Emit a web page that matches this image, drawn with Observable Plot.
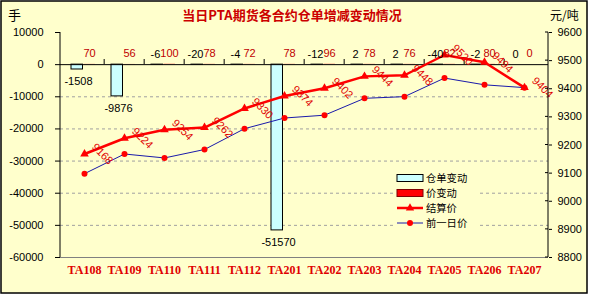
<!DOCTYPE html>
<html><head><meta charset="utf-8">
<script src="https://cdn.jsdelivr.net/npm/d3@7"></script>
<script src="https://cdn.jsdelivr.net/npm/@observablehq/plot@0.6"></script>
<style>body{margin:0;background:#fff}#chart svg{display:block}</style>
</head><body><div id="chart"></div>
<script>
const categories = ["TA108","TA109","TA110","TA111","TA112","TA201","TA202","TA203","TA204","TA205","TA206","TA207"];
const warrantChange = [-1508, -9876, -6, -20, -4, -51570, -12, 2, 2, -40, -2, 0];
const priceChange = [70, 56, 100, 78, 72, 78, 96, 78, 76, 82, 80, 0];
const settlePrice = [9168, 9224, 9254, 9262, 9330, 9374, 9402, 9444, 9448, 9520, 9494, 9404];
const prevPrice = [9098, 9168, 9154, 9184, 9258, 9296, 9306, 9366, 9372, 9438, 9414, 9404];
const leftTicks = [10000, 0, -10000, -20000, -30000, -40000, -50000, -60000];
const gridTicks = [-10000, -20000, -30000, -40000, -50000];
const rightTicks = [9600, 9500, 9400, 9300, 9200, 9100, 9000, 8900, 8800];
const titleText = "当日PTA期货各合约仓单增减变动情况";
const legendLabels = ["仓单变动", "价变动", "结算价", "前一日价"];

const toLeft = p => (p - 9600) * 87.5 + 10000;
const fromLeft = v => Math.round((v - 10000) / 87.5 + 9600);

const rows = categories.map((c, i) => ({cat: c, warrant: warrantChange[i], change: priceChange[i], settle: settlePrice[i], prev: prevPrice[i]}));

const chart = Plot.plot({
  width: 590, height: 297,
  marginTop: 32, marginBottom: 40, marginLeft: 60, marginRight: 42,
  style: {background: "transparent", fontFamily: "'Liberation Sans', Arial, sans-serif", fontSize: "11px", color: "#000"},
  x: {type: "band", domain: categories, padding: 0, label: null},
  y: {domain: [-60000, 10000], label: null},
  marks: [
    Plot.ruleY(gridTicks, {stroke: "#a0a0a0", strokeDasharray: "3,3"}),
    Plot.ruleY([-60000], {stroke: "#808080"}),
    Plot.barY(rows, {x: "cat", y: "warrant", fill: "#ccffff", stroke: "#000", strokeWidth: 1, insetLeft: 7, insetRight: 21.5}),
    Plot.barY(rows, {x: "cat", y: "change", fill: "#ff0000", insetLeft: 19.5, insetRight: 9}),
    Plot.ruleY([0], {stroke: "#000"}),
    Plot.ruleX(categories.slice(1), {x: d => d, y1: 0, y2: 1600, dx: -20.33, stroke: "#000"}),
    Plot.line(rows, {x: "cat", y: d => toLeft(d.prev), stroke: "#1a1aaa", strokeWidth: 1}),
    Plot.dot(rows, {x: "cat", y: d => toLeft(d.prev), r: 3, fill: "#ff0000"}),
    Plot.line(rows, {x: "cat", y: d => toLeft(d.settle), stroke: "#ff0000", strokeWidth: 2.5}),
    Plot.dot(rows, {x: "cat", y: d => toLeft(d.settle), symbol: "triangle", r: 3.2, fill: "#ff0000"}),
    Plot.text(rows, {x: "cat", y: d => toLeft(d.settle), text: d => String(d.settle), rotate: 45, dx: 18, fill: "#e00000", fontSize: 11}),
    Plot.text(rows.filter(d => Math.abs(d.warrant) >= 1000), {x: "cat", y: "warrant", text: d => String(d.warrant), dx: -6, dy: 12, fill: "#000"}),
    Plot.text(rows.filter(d => Math.abs(d.warrant) < 1000), {x: "cat", y: 0, text: d => String(d.warrant), dx: -9, dy: -10, fill: "#000"}),
    Plot.text(rows, {x: "cat", y: 0, text: d => String(d.change), dx: 5, dy: -11, fill: "#c00000"}),
    Plot.axisY(leftTicks, {anchor: "left", tickSize: 5, tickPadding: 12, tickFormat: d => String(d), label: null, fill: "#000"}),
    Plot.axisY(rightTicks.map(toLeft), {anchor: "right", tickSize: 3, tickPadding: 6, tickFormat: d => String(fromLeft(d)), label: null, fill: "#000"}),
    Plot.axisX({anchor: "bottom", tickSize: 0, tickPadding: 8, fill: "#e00000", fontWeight: "bold", fontFamily: "'Liberation Serif', serif", fontSize: 12, label: null})
  ]
});

document.getElementById("chart").appendChild(chart);

const svg = d3.select(chart);
const xr = chart.scale("x").range;
const yr = chart.scale("y").range;
const plotLeft = Math.min(...xr), plotRight = Math.max(...xr);
const plotTop = Math.min(...yr), plotBottom = Math.max(...yr);
const bg = "#ffffcc";

svg.insert("rect", ":first-child").attr("x", 1).attr("y", 1).attr("width", 586).attr("height", 292)
  .attr("fill", bg).attr("stroke", "#000").attr("stroke-width", 1.5);

const g = svg.append("g").attr("text-anchor", "start");
g.append("line").attr("x1", plotLeft).attr("x2", plotLeft).attr("y1", plotTop).attr("y2", plotBottom).attr("stroke", "#000");
g.append("line").attr("x1", plotRight).attr("x2", plotRight).attr("y1", plotTop).attr("y2", plotBottom).attr("stroke", "#000");
const ys = chart.scale("y");
const yScale = d3.scaleLinear().domain(ys.domain).range(ys.range);
rightTicks.forEach(t => {
  const y = yScale(toLeft(t));
  g.append("line").attr("x1", plotRight - 3).attr("x2", plotRight).attr("y1", y).attr("y2", y).attr("stroke", "#000");
});

// title and units
g.append("text").attr("x", 292).attr("y", 20).attr("text-anchor", "middle")
  .attr("font-family", "'Noto Sans CJK SC', sans-serif").attr("font-weight", "bold").attr("font-size", 13)
  .attr("fill", "#cc0000").text(titleText);
g.append("text").attr("x", 8).attr("y", 20).attr("text-anchor", "start").attr("font-family", "'Noto Sans CJK SC', sans-serif")
  .attr("font-size", 13).attr("fill", "#000").text("手");
g.append("text").attr("x", 550).attr("y", 20).attr("text-anchor", "start").attr("font-family", "'Noto Sans CJK SC', sans-serif")
  .attr("font-size", 12).attr("fill", "#000").text("元/吨");

// legend
const lg = g.append("g");
lg.append("rect").attr("x", 393).attr("y", 169).attr("width", 86).attr("height", 62).attr("fill", bg);
const ly = [178, 193, 208, 223];
lg.append("rect").attr("x", 397).attr("y", ly[0] - 3.5).attr("width", 26).attr("height", 7).attr("fill", "#ccffff").attr("stroke", "#000");
lg.append("rect").attr("x", 397).attr("y", ly[1] - 3.5).attr("width", 26).attr("height", 7).attr("fill", "#ff0000").attr("stroke", "#800000");
lg.append("line").attr("x1", 397).attr("x2", 423).attr("y1", ly[2]).attr("y2", ly[2]).attr("stroke", "#ff0000").attr("stroke-width", 2.5);
lg.append("path").attr("d", d3.symbol(d3.symbolTriangle, 30)()).attr("transform", `translate(410,${ly[2]})`).attr("fill", "#ff0000");
lg.append("line").attr("x1", 397).attr("x2", 423).attr("y1", ly[3]).attr("y2", ly[3]).attr("stroke", "#1a1aaa").attr("stroke-width", 1);
lg.append("circle").attr("cx", 410).attr("cy", ly[3]).attr("r", 3).attr("fill", "#ff0000");
legendLabels.forEach((t, i) => {
  lg.append("text").attr("x", 426).attr("y", ly[i] + 4).attr("text-anchor", "start").attr("font-family", "'Noto Sans CJK SC', sans-serif")
    .attr("font-size", 10.3).attr("fill", "#000").text(t);
});
</script>
</body></html>
